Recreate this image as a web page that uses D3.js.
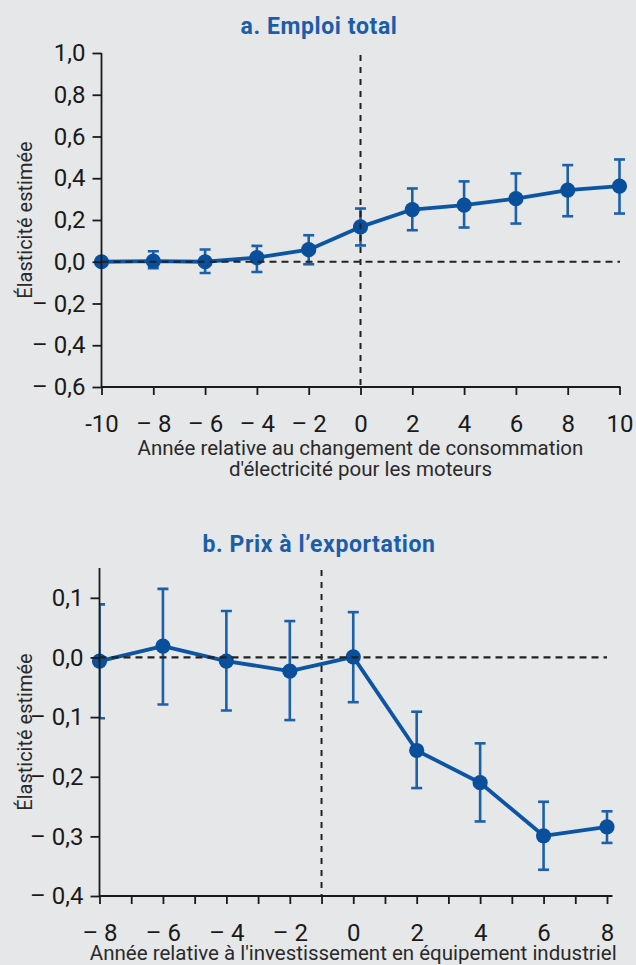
<!DOCTYPE html>
<html><head><meta charset="utf-8">
<script src="https://cdn.jsdelivr.net/npm/d3@7"></script>
<style>
body{margin:0;background:#e6e7e9;}
svg{display:block;}
</style></head>
<body>
<svg id="chart" width="636" height="965"></svg>
<script>
// ---- Panel a: Emploi total ----
const aYears = [-10, -8, -6, -4, -2, 0, 2, 4, 6, 8, 10];
const aValue = [0.000, 0.003, 0.000, 0.020, 0.058, 0.167, 0.250, 0.271, 0.302, 0.343, 0.362];
const aLow   = [0.000, -0.031, -0.054, -0.049, -0.012, 0.078, 0.151, 0.164, 0.183, 0.218, 0.231];
const aHigh  = [0.000, 0.050, 0.059, 0.076, 0.127, 0.255, 0.351, 0.385, 0.423, 0.463, 0.490];
const aXTicks = [-10, -8, -6, -4, -2, 0, 2, 4, 6, 8, 10];
const aXTickLabels = ["-10", "– 8", "– 6", "– 4", "– 2", "0", "2", "4", "6", "8", "10"];
const aYTicks = [-0.6, -0.4, -0.2, 0, 0.2, 0.4, 0.6, 0.8, 1.0];
const aYTickLabels = ["– 0,6", "– 0,4", "– 0,2", "0,0", "0,2", "0,4", "0,6", "0,8", "1,0"];

// ---- Panel b: Prix à l'exportation ----
const bYears = [-8, -6, -4, -2, 0, 2, 4, 6, 8];
const bValue = [-0.006, 0.019, -0.006, -0.023, 0.001, -0.156, -0.210, -0.299, -0.284];
const bLow   = [-0.102, -0.079, -0.089, -0.105, -0.075, -0.219, -0.275, -0.356, -0.311];
const bHigh  = [0.089, 0.115, 0.078, 0.061, 0.076, -0.091, -0.144, -0.242, -0.258];
const bXTicks = [-8, -7, -6, -5, -4, -3, -2, -1, 0, 1, 2, 3, 4, 5, 6, 7, 8];
const bXTickLabels = ["– 8", "", "– 6", "", "– 4", "", "– 2", "", "0", "", "2", "", "4", "", "6", "", "8"];
const bYTicks = [-0.4, -0.3, -0.2, -0.1, 0, 0.1];
const bYTickLabels = ["– 0,4", "– 0,3", "– 0,2", "– 0,1", "0,0", "0,1"];

const titles = ["a. Emploi total", "b. Prix à l’exportation"];
const yTitle = "Élasticité estimée";
const aXTitle = ["Année relative au changement de consommation", "d'électricité pour les moteurs"];
const bXTitle = ["Année relative à l'investissement en équipement industriel"];

const BLUE = "#0b55a2", BLUE_ERR = "#1d60aa", TITLE_BLUE = "#1b5da8", INK = "#1a1a1a";
const svg = d3.select("#chart");

function panel(cfg) {
  const g = svg.append("g");
  const x = d3.scaleLinear().domain(cfg.xDomain).range(cfg.xRange);
  const y = d3.scaleLinear().domain(cfg.yDomain).range(cfg.yRange);
  const data = cfg.years.map((d, i) => ({x: d, v: cfg.value[i], lo: cfg.low[i], hi: cfg.high[i]}));

  // title
  g.append("text").attr("x", cfg.titleX).attr("y", cfg.titleY)
    .attr("text-anchor", "middle")
    .style("font-family", "Roboto, sans-serif")
    .style("font-weight", "bold").style("font-size", "23px").style("letter-spacing", "0.6px")
    .style("fill", TITLE_BLUE).text(cfg.title);

  // clip for error bars
  const clipId = "clip" + cfg.id;
  svg.append("clipPath").attr("id", clipId).append("rect")
    .attr("x", cfg.xRange[0]).attr("y", 0)
    .attr("width", cfg.xRange[1] - cfg.xRange[0] + 20).attr("height", 965);

  // error bars
  const eb = g.append("g").attr("clip-path", `url(#${clipId})`)
    .attr("stroke", BLUE_ERR).attr("stroke-width", 2.6).attr("fill", "none");
  data.forEach(d => {
    eb.append("line").attr("x1", x(d.x)).attr("x2", x(d.x)).attr("y1", y(d.lo)).attr("y2", y(d.hi));
    [d.lo, d.hi].forEach(e => eb.append("line")
      .attr("x1", x(d.x) - 5.5).attr("x2", x(d.x) + 5.5).attr("y1", y(e)).attr("y2", y(e)));
  });

  // line
  g.append("path").datum(data)
    .attr("d", d3.line().x(d => x(d.x)).y(d => y(d.v)))
    .attr("fill", "none").attr("stroke", BLUE).attr("stroke-width", 3.8)
    .attr("stroke-linejoin", "round");

  // dots
  g.append("g").selectAll("circle").data(data).join("circle")
    .attr("cx", d => x(d.x)).attr("cy", d => y(d.v)).attr("r", 7.6).attr("fill", "#0a4f9c");

  // dashed reference lines
  g.append("line").attr("x1", cfg.xRange[0]).attr("x2", cfg.zeroLineEnd)
    .attr("y1", y(0)).attr("y2", y(0))
    .attr("stroke", "#222").attr("stroke-width", 2.2).attr("stroke-dasharray", "7,5");
  g.append("line").attr("x1", x(cfg.eventX)).attr("x2", x(cfg.eventX))
    .attr("y1", cfg.vTop).attr("y2", cfg.yRange[0])
    .attr("stroke", "#222").attr("stroke-width", 2).attr("stroke-dasharray", "6,6");

  // axes
  const xAxis = d3.axisBottom(x).tickValues(cfg.xTicks)
    .tickFormat((d, i) => cfg.xTickLabels[i]).tickSize(8).tickPadding(20).tickSizeOuter(0);
  const gx = g.append("g").attr("transform", `translate(0,${cfg.yRange[0]})`).call(xAxis);
  gx.select(".domain").attr("d", `M${cfg.xRange[0]},0H${cfg.xAxisEnd}`);
  const yAxis = d3.axisLeft(y).tickValues(cfg.yTicks)
    .tickFormat((d, i) => cfg.yTickLabels[i]).tickSize(9).tickPadding(7).tickSizeOuter(0);
  const gy = g.append("g").attr("transform", `translate(${cfg.xRange[0]},0)`).call(yAxis);
  gy.select(".domain").attr("d", `M0,${cfg.yRange[0]}V${cfg.yRange[1]}`);
  [gx, gy].forEach(a => {
    a.select(".domain").attr("stroke", INK).attr("stroke-width", 1.8);
    a.selectAll(".tick line").attr("stroke", INK).attr("stroke-width", 1.8);
    a.selectAll(".tick text").style("font-family", "Roboto, sans-serif")
      .style("font-size", "24px").attr("fill", INK);
  });

  // axis titles
  g.append("text").attr("transform", `translate(32,${(cfg.yRange[0] + cfg.yRange[1]) / 2}) rotate(-90)`)
    .attr("text-anchor", "middle").style("font-family", "Roboto, sans-serif")
    .style("font-size", "20px").attr("fill", "#2a2a2a").text(yTitle);
  const cx = (cfg.xRange[0] + cfg.xRange[1]) / 2;
  cfg.xTitle.forEach((t, i) => g.append("text").attr("x", cx).attr("y", cfg.xTitleY + i * 21)
    .attr("text-anchor", "middle").style("font-family", "Roboto, sans-serif")
    .style("font-size", "20.5px").attr("fill", "#2a2a2a").text(t));
}

panel({
  id: "a", title: titles[0], titleX: 319, titleY: 34,
  years: aYears, value: aValue, low: aLow, high: aHigh,
  xDomain: [-10, 10], xRange: [101.5, 619.5], yDomain: [-0.6, 1.0], yRange: [387, 53],
  xTicks: aXTicks, xTickLabels: aXTickLabels, yTicks: aYTicks, yTickLabels: aYTickLabels,
  eventX: 0, vTop: 55, zeroLineEnd: 620, xAxisEnd: 620.5,
  xTitle: aXTitle, xTitleY: 455
});
panel({
  id: "b", title: titles[1], titleX: 319, titleY: 552,
  years: bYears, value: bValue, low: bLow, high: bHigh,
  xDomain: [-8, 8], xRange: [99.5, 607], yDomain: [-0.4, 0.15], yRange: [896, 568],
  xTicks: bXTicks, xTickLabels: bXTickLabels, yTicks: bYTicks, yTickLabels: bYTickLabels,
  eventX: -1, vTop: 570, zeroLineEnd: 607, xAxisEnd: 612.5,
  xTitle: bXTitle, xTitleY: 960
});
</script>
</body></html>
